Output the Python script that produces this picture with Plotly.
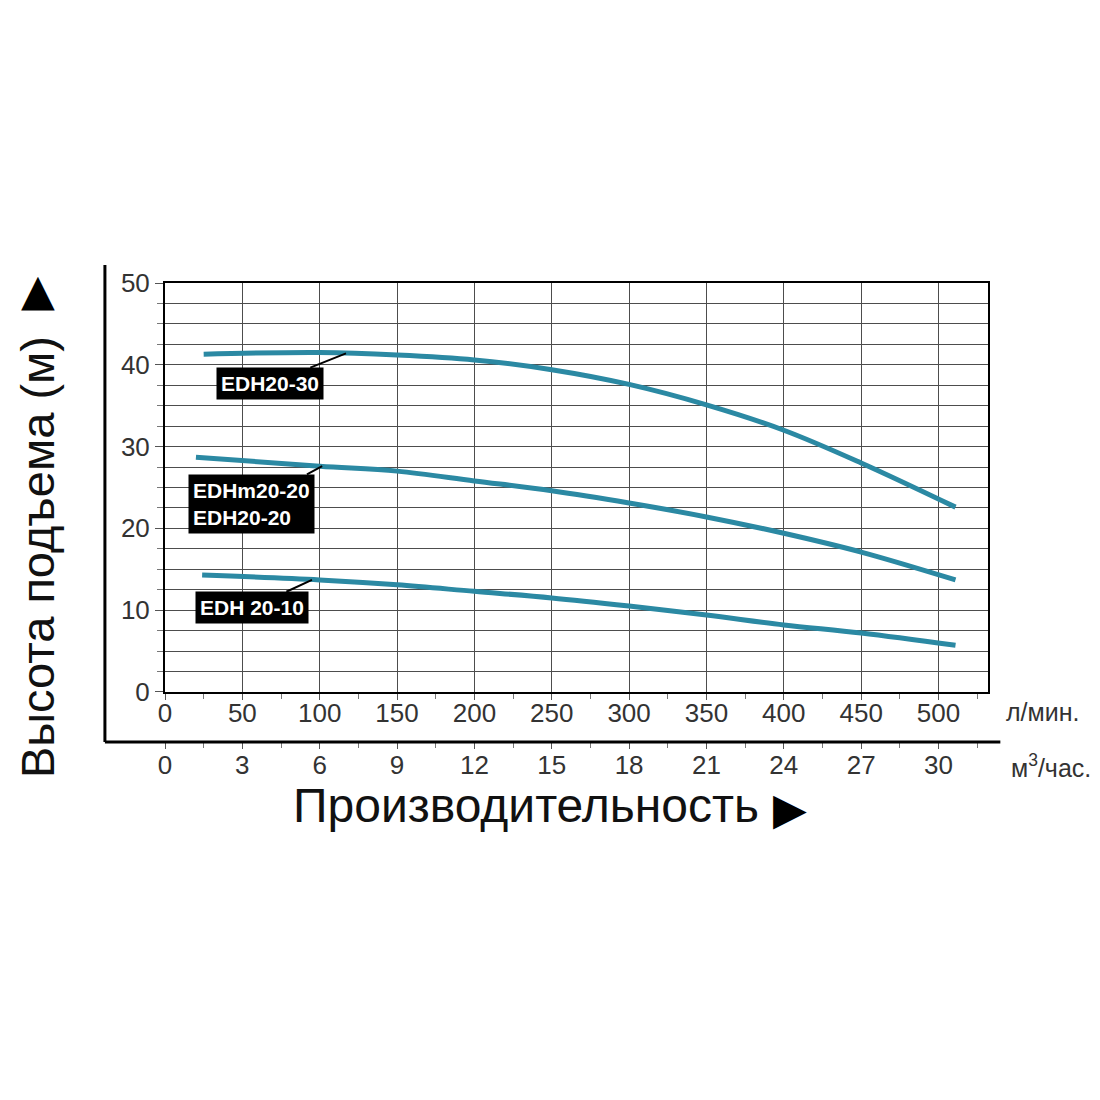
import plotly.graph_objects as go

# flow, l/min
q_30 = [25, 100, 150, 200, 250, 300, 350, 400, 450, 511]
h_30 = [41.3, 41.5, 41.2, 40.6, 39.4, 37.6, 35.1, 32.0, 28.0, 22.6]

q_20 = [20, 100, 150, 200, 250, 300, 350, 400, 450, 511]
h_20 = [28.7, 27.6, 27.0, 25.8, 24.6, 23.1, 21.4, 19.4, 17.1, 13.7]

q_10 = [24, 100, 150, 200, 250, 300, 350, 400, 450, 511]
h_10 = [14.3, 13.7, 13.1, 12.3, 11.5, 10.5, 9.4, 8.2, 7.2, 5.7]

lmin_ticks = [0, 50, 100, 150, 200, 250, 300, 350, 400, 450, 500]
m3h_ticks = [0, 3, 6, 9, 12, 15, 18, 21, 24, 27, 30]

X_MAX = 532
CURVE = "#2b89a3"
GRID = "#4d4d4d"
FONT = "Liberation Sans, Arial, sans-serif"

fig = go.Figure()
for q, h in [(q_30, h_30), (q_20, h_20), (q_10, h_10)]:
    fig.add_trace(go.Scatter(x=q, y=h, mode="lines", line=dict(color=CURVE, width=5, shape="spline"),
                             showlegend=False, hoverinfo="skip"))

# invisible trace for the m3/h axis
fig.add_trace(go.Scatter(x=[0, X_MAX * 0.06], y=[0, 0], xaxis="x2", mode="lines",
                         line=dict(width=0), showlegend=False, hoverinfo="skip"))

fig.update_layout(
    width=1100, height=1100,
    margin=dict(l=157, r=120, t=275, b=366),
    paper_bgcolor="white", plot_bgcolor="white",
    font=dict(family=FONT, color="#333333", size=26),
    xaxis=dict(range=[0, X_MAX], tickvals=lmin_ticks, showgrid=True, gridcolor=GRID, gridwidth=1,
               ticks="outside", ticklen=6, tickcolor="#555", showline=True, linecolor="black",
               linewidth=2, mirror=True, zeroline=False,
               minor=dict(dtick=25, ticks="outside", ticklen=5, tickcolor="#777", showgrid=False),
               tickfont=dict(size=26), ticklabelstandoff=-9),
    yaxis=dict(range=[0, 50], domain=[0.109, 1], dtick=10, showgrid=True, gridcolor=GRID, gridwidth=1,
               ticks="outside", ticklen=8, tickcolor="#555", showline=True, linecolor="black",
               linewidth=2, mirror=True, zeroline=False,
               minor=dict(dtick=2.5, ticks="outside", ticklen=6, tickcolor="#777",
                          showgrid=True, gridcolor=GRID, gridwidth=1),
               tickfont=dict(size=26)),
    xaxis2=dict(range=[0, X_MAX * 0.06], overlaying="x", anchor="free", position=0, side="bottom",
                tickvals=m3h_ticks, ticks="outside", ticklen=6, tickcolor="#555", showgrid=False,
                showline=False, zeroline=False,
                minor=dict(dtick=1.5, ticks="outside", ticklen=5, tickcolor="#777"),
                tickfont=dict(size=26), ticklabelstandoff=-6),
)

# outer L-shaped frame
fig.add_shape(type="line", xref="paper", yref="paper", x0=-0.073, x1=-0.073, y0=1.039, y1=0,
              line=dict(color="black", width=3))
fig.add_shape(type="line", xref="paper", yref="paper", x0=-0.073, x1=1.015, y0=0, y1=0,
              line=dict(color="black", width=3))

# curve labels
labels = [
    ("EDH20-30", 117, 41.4, 68, 37.7),
    ("EDHm20-20<br>EDH20-20", 101.6, 27.6, 56, 23.0),
    ("EDH 20-10", 95, 13.7, 56, 10.3),
]
for text, x, y, ax, ay in labels:
    fig.add_annotation(x=x, y=y, ax=ax, ay=ay, axref="x", ayref="y", text=text, showarrow=True,
                       arrowhead=0, arrowwidth=2, arrowcolor="black", align="left",
                       bgcolor="black", borderpad=4,
                       font=dict(family="Liberation Sans Narrow, Arial Narrow, sans-serif",
                                 size=21, color="white", weight="bold"))

# axis titles and units
def note(x, y, text, size, **kw):
    fig.add_annotation(xref="paper", yref="paper", x=x, y=y, text=text, showarrow=False,
                       xanchor=kw.pop("xanchor", "center"), yanchor="middle",
                       font=dict(size=size, color=kw.pop("color", "#111111"),
                                 family=kw.pop("family", FONT)), **kw)

note(-0.1555, 0.403, "Высота подъема (м)", 47, textangle=-90)
note(-0.1543, 0.985, "▲", 44, family="DejaVu Sans", color="black")
note(0.4386, -0.139, "Производительность", 48)
note(0.7594, -0.144, "▶", 44, family="DejaVu Sans", color="black")
note(1.02, 0.0654, "л/мин.", 25, xanchor="left", color="#333333")
note(1.026, -0.0523, "м<sup>3</sup>/час.", 25, xanchor="left", color="#333333")

fig.write_html("out.html")
